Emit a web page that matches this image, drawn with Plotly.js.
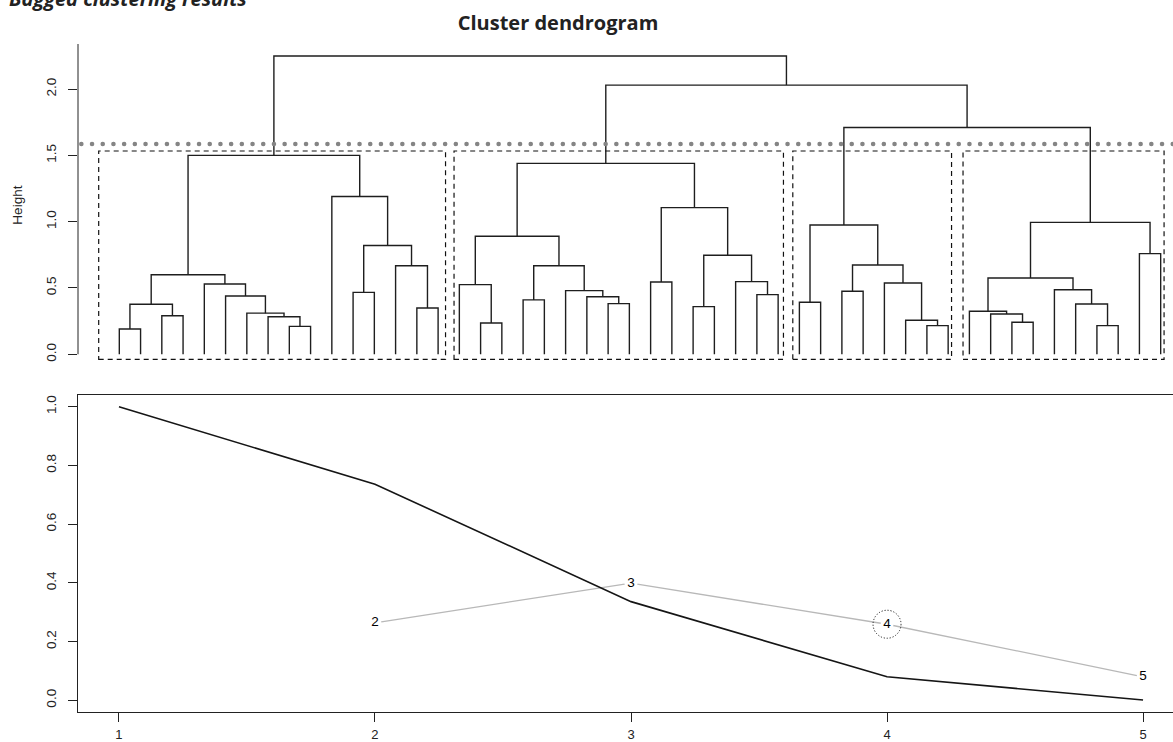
<!DOCTYPE html>
<html>
<head>
<meta charset="utf-8">
<script src="https://cdn.plot.ly/plotly-3.0.1.min.js"></script>
<style>html,body{margin:0;padding:0;background:#fff;overflow:hidden;}#chart{width:1173px;height:742px;}</style>
</head>
<body>
<div id="chart"></div>
<script>
// ---------- Dendrogram data (leaves numbered 1..50 in plotted order) ----------
// negative = leaf, positive = earlier merge (1-based)
const mergeLeft  = [-1,-3, 1,-9,-8,-7,-6,-5, 3,-15,-14,-12,12,-11, 9,
                    -18,-17,-20,-24,-23,-22,18,17,-26,-28,-31,-30,25,24,23,
                    -33,-35,-39,-38,-37,32,31,
                    -43,-42,-41,-47,-46,-45,40,-49,44,37,30,15];
const mergeRight = [-2,-4, 2,-10, 4, 5, 6, 7, 8,-16, 10,-13,11,13,14,
                    -19,16,-21,-25,19,20,21,22,-27,-29,-32,26,27,28,29,
                    -34,-36,-40,33,34,35,36,
                    -44,38,39,-48,41,42,43,-50,45,46,47,48];
const mergeHeight = [0.19,0.29,0.377,0.21,0.283,0.31,0.44,0.53,0.60,0.349,0.668,0.467,0.82,1.19,1.50,
                     0.236,0.525,0.41,0.382,0.434,0.48,0.668,0.89,0.545,0.359,0.45,0.548,0.747,1.106,1.44,
                     0.392,0.475,0.216,0.256,0.538,0.673,0.975,
                     0.241,0.304,0.324,0.216,0.379,0.487,0.575,0.759,0.995,1.71,2.03,2.25];
const cutHeight = 1.586;
const clusterStart = [0.03, 16.75, 32.69, 40.70];
const clusterEnd   = [16.35, 32.25, 40.16, 50.16];
const clusterBoxTop = 1.533;
const clusterBoxBottom = -0.038;
const heightTicks = [0, 0.5, 1.0, 1.5, 2.0];

// ---------- Bottom panel data ----------
const kValues = [1, 2, 3, 4, 5];
const blackSeries = [1.0, 0.736, 0.336, 0.080, 0.001];
const graySeries  = [null, 0.264, 0.399, 0.259, 0.080];
const grayLabels  = ['', '2', '3', '4', '5'];
const chosenK = 4;
const bottomTicks = [0, 0.2, 0.4, 0.6, 0.8, 1.0];

// ---------- Build dendrogram segments ----------
const mergeX = [];
function nodeX(id){ return id < 0 ? -id : mergeX[id-1]; }
function nodeH(id){ return id < 0 ? 0 : mergeHeight[id-1]; }
const dx = [], dy = [];
for (let i = 0; i < mergeHeight.length; i++) {
  const a = mergeLeft[i], b = mergeRight[i], h = mergeHeight[i];
  const xa = nodeX(a), xb = nodeX(b);
  mergeX.push((xa + xb) / 2);
  dx.push(xa, xa, xb, xb, null);
  dy.push(nodeH(a), h, h, nodeH(b), null);
}

const TF = 'Liberation Sans, Arial, Helvetica, sans-serif';
const ink = '#222222';

const traces = [
  {x: dx, y: dy, xaxis: 'x', yaxis: 'y', mode: 'lines', type: 'scatter',
   line: {color: '#1e1e1e', width: 1.4}, hoverinfo: 'skip', showlegend: false},
  {x: kValues, y: graySeries, xaxis: 'x2', yaxis: 'y2', mode: 'lines+markers+text', type: 'scatter',
   text: grayLabels, textposition: 'middle center', textfont: {family: TF, size: 13.5, color: '#000'},
   marker: {color: '#ffffff', size: 13, line: {width: 0}},
   line: {color: '#b8b8b8', width: 1.3}, showlegend: false, cliponaxis: false},
  {x: kValues, y: blackSeries, xaxis: 'x2', yaxis: 'y2', mode: 'lines', type: 'scatter',
   line: {color: '#151515', width: 1.6}, showlegend: false}
];

const shapes = [];
// top y-axis line from 0 to top
shapes.push({type: 'line', xref: 'paper', yref: 'y', x0: 0, x1: 0, y0: 0, y1: 2.34,
  line: {color: ink, width: 1}});
// cluster boxes
for (let i = 0; i < clusterStart.length; i++) {
  shapes.push({type: 'rect', xref: 'x', yref: 'y', x0: clusterStart[i], x1: clusterEnd[i],
    y0: clusterBoxBottom, y1: clusterBoxTop, line: {color: '#111', width: 1.2, dash: '5px,4px'}});
}
// cut line
shapes.push({type: 'line', xref: 'paper', yref: 'y', x0: 0.003, x1: 1, y0: cutHeight, y1: cutHeight,
  line: {color: '#858585', width: 4.5, dash: '4.5px,6.2px'}});
// circle around chosen k
shapes.push({type: 'circle', xref: 'x2', yref: 'y2', xsizemode: 'pixel', ysizemode: 'pixel',
  xanchor: chosenK, yanchor: graySeries[kValues.indexOf(chosenK)], x0: -14, x1: 14, y0: -14, y1: 14,
  line: {color: '#222', width: 1, dash: '1.2px,1.8px'}});

const layout = {
  width: 1173, height: 742,
  margin: {l: 78, r: 0, t: 0, b: 0},
  paper_bgcolor: '#fff', plot_bgcolor: 'rgba(0,0,0,0)',
  showlegend: false,
  title: {text: 'Cluster dendrogram', x: 558/1173, xanchor: 'center', xref: 'container',
          y: 1 - 23/742, yanchor: 'middle', yref: 'container',
          font: {family: 'Open Sans, sans-serif', size: 20, weight: 700, color: '#222'}},
  annotations: [
    {text: '<b><i>Bagged clustering results</i></b>', xref: 'paper', yref: 'paper',
     x: -71/1095, xanchor: 'left', y: 1 + 1/742, yanchor: 'middle', showarrow: false,
     font: {family: 'Open Sans, sans-serif', size: 20, color: '#222'}}
  ],
  xaxis: {domain: [0, 1], range: [-0.944, 50.58], showline: false, showgrid: false, zeroline: false,
          showticklabels: false, ticks: '', anchor: 'y', fixedrange: true},
  yaxis: {domain: [1 - 366.2/742, 1 - 44/742], range: [-0.09, 2.34], anchor: 'x',
          tickvals: heightTicks, tickformat: '.1f', tickangle: -90,
          ticks: 'outside', ticklen: 9, tickcolor: ink, tickwidth: 1,
          showline: false, showgrid: false, zeroline: false, ticklabelstandoff: 7,
          tickfont: {family: TF, size: 13.5, color: '#222'},
          title: {text: 'Height', font: {family: TF, size: 13.5, color: '#222'}, standoff: 17}},
  xaxis2: {domain: [0, 1], range: [0.84, 5.117], anchor: 'y2',
           tickvals: kValues, ticks: 'outside', ticklen: 9, tickcolor: ink, tickwidth: 1,
           showline: true, mirror: true, linecolor: ink, linewidth: 1,
           showgrid: false, zeroline: false, ticklabelstandoff: 1,
           tickfont: {family: TF, size: 13, color: '#222'}},
  yaxis2: {domain: [1 - 712/742, 1 - 395/742], range: [-0.04, 1.04], anchor: 'x2',
           tickvals: bottomTicks, tickformat: '.1f', tickangle: -90,
           ticks: 'outside', ticklen: 9, tickcolor: ink, tickwidth: 1,
           showline: true, linecolor: ink, linewidth: 1,
           showgrid: false, zeroline: false, ticklabelstandoff: 7,
           tickfont: {family: TF, size: 13.5, color: '#222'}},
  shapes: shapes
};

Plotly.newPlot('chart', traces, layout, {staticPlot: true, displayModeBar: false}).then(function(){
  // round the cut-line dots
  document.querySelectorAll('.shapelayer path').forEach(function(p){
    if ((p.style.stroke || '').indexOf('133') >= 0) {
      p.style.strokeLinecap = 'round';
      p.style.strokeDasharray = '0.1px,10.6px';
    }
  });
});
</script>
</body>
</html>
